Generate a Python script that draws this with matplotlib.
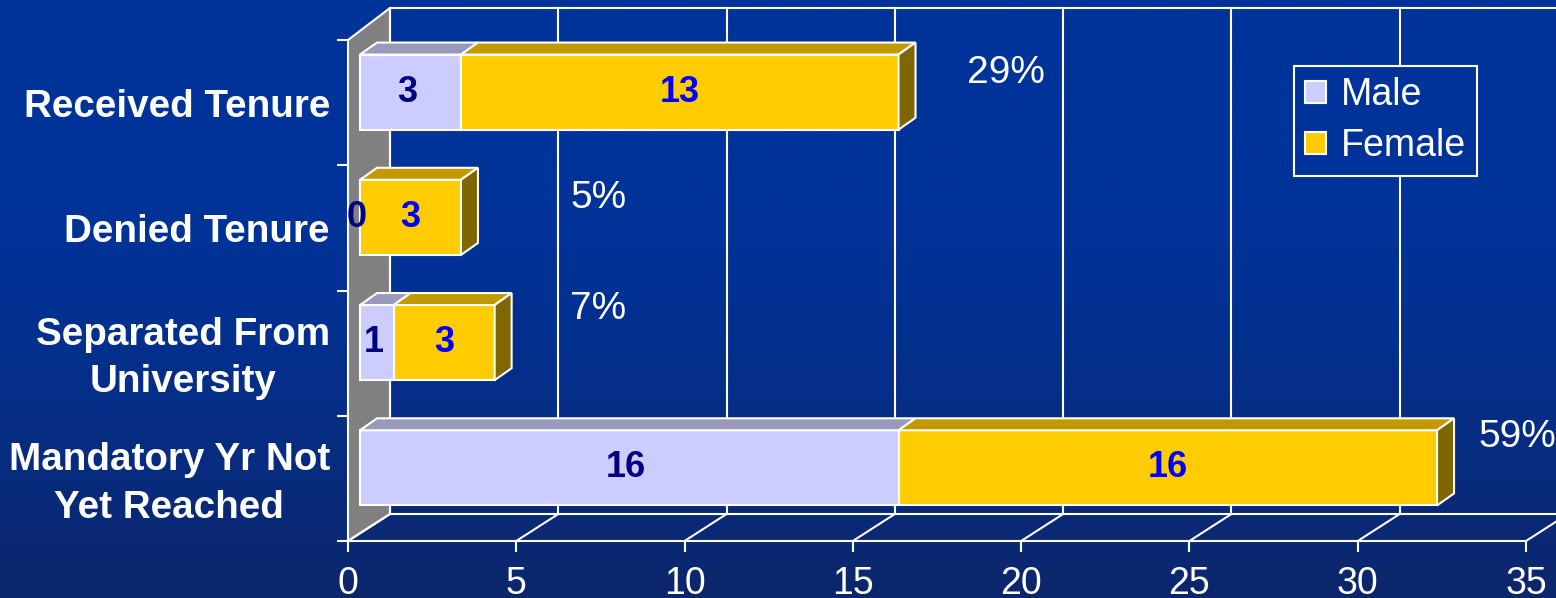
import numpy as np
import matplotlib.pyplot as plt
import matplotlib.transforms as mtransforms
from matplotlib.patches import Polygon
from matplotlib.lines import Line2D

categories = ['Received Tenure', 'Denied Tenure', 'Separated From\nUniversity',
              'Mandatory Yr Not\nYet Reached']
male = [3, 0, 1, 16]
female = [13, 3, 3, 16]
pct_labels = ['29%', '5%', '7%', '59%']
x_ticks = [0, 5, 10, 15, 20, 25, 30, 35]

# placement of the percentage notes (x in data units, shift from category centre)
pct_x = [18.4, 6.6, 6.6, 33.6]
pct_dy = [-0.24, -0.24, -0.35, -0.33]

W, H = 1556, 598
SANS = ['Liberation Sans', 'DejaVu Sans']

# colours: front, top, side
male_col = ('#CCCCFF', '#9999BB', '#666699')
female_col = ('#FFCC00', '#C29A00', '#806600')

fig = plt.figure(figsize=(W / 100, H / 100), dpi=100)

# background gradient
bg = fig.add_axes([0, 0, 1, 1], zorder=0)
t = np.linspace(0, 1, 300)
top_c = np.array([0.0, 0.2, 0.6])
bot_c = np.array([0.05, 0.15, 0.42])
mix = np.clip((t - 0.35) / 0.65, 0, 1) ** 1.3
img = top_c[None, :] * (1 - mix[:, None]) + bot_c[None, :] * mix[:, None]
bg.imshow(img[:, None, :], aspect='auto', extent=[0, 1, 0, 1])
bg.axis('off')

ax = fig.add_axes([348 / W, 1 - 541 / H, (1526 - 348) / W, (541 - 40) / H], zorder=1)
ax.set_xlim(0, 35)
ax.set_ylim(3.5, -0.5)
ax.patch.set_visible(False)
for s in ax.spines.values():
    s.set_visible(False)

ident = mtransforms.IdentityTransform()
depth = np.array([42, 27])
wall_depth = np.array([42, 32])


def px(x, y):
    return ax.transData.transform((x, y))


# side wall
fb, ft = px(0, 3.5), px(0, -0.5)
ax.add_patch(Polygon([fb, ft, ft + wall_depth, fb + depth], closed=True, transform=ident,
                     facecolor='#808080', edgecolor='white', lw=1.5, clip_on=False, zorder=1))

# back plane grid and floor
top_y = (ft + wall_depth)[1]
for xt in x_ticks:
    f = px(xt, 3.5)
    b = f + depth
    ax.add_line(Line2D([b[0], b[0]], [b[1], top_y], transform=ident, color='white',
                       lw=1.5, clip_on=False, zorder=1))
    ax.add_line(Line2D([f[0], b[0]], [f[1], b[1]], transform=ident, color='white',
                       lw=1.5, clip_on=False, zorder=1))
ax.add_line(Line2D([(ft + depth)[0], W + 50], [top_y, top_y], transform=ident,
                   color='white', lw=1.5, clip_on=False, zorder=1))
f0, f1 = px(0, 3.5), px(35, 3.5)
ax.add_line(Line2D([f0[0], f1[0]], [f0[1], f1[1]], transform=ident, color='white',
                   lw=1.5, clip_on=False, zorder=1))
ax.add_line(Line2D([f0[0] + depth[0], f1[0] + depth[0] + 50], [f0[1] + depth[1]] * 2,
                   transform=ident, color='white', lw=1.5, clip_on=False, zorder=1))

# bars sit a little behind the front plane
off = mtransforms.offset_copy(ax.transData, fig=fig, x=12, y=10.5, units='dots')
y = np.arange(len(categories))
bh = 0.6
m_bars = ax.barh(y, male, height=bh, color=male_col[0], edgecolor='white', lw=1.5,
                 transform=off, label='Male', zorder=3)
f_bars = ax.barh(y, female, left=male, height=bh, color=female_col[0], edgecolor='white',
                 lw=1.5, transform=off, label='Female', zorder=3)

bd = np.array([17, 12])
for i in range(len(categories)):
    segs = [(0, male[i], male_col), (male[i], female[i], female_col)]
    segs = [s for s in segs if s[1] > 0]
    for k, (left, w, cols) in enumerate(segs):
        a = off.transform((left, i - bh / 2))
        b = off.transform((left + w, i - bh / 2))
        c = off.transform((left + w, i + bh / 2))
        ax.add_patch(Polygon([a, b, b + bd, a + bd], closed=True, transform=ident,
                             facecolor=cols[1], edgecolor='white', lw=1.5,
                             clip_on=False, zorder=3))
        if k == len(segs) - 1:
            ax.add_patch(Polygon([b, c, c + bd, b + bd], closed=True, transform=ident,
                                 facecolor=cols[2], edgecolor='white', lw=1.5,
                                 clip_on=False, zorder=3))

# value labels
for i in range(len(categories)):
    ax.text(male[i] / 2 - 0.1, i, str(male[i]), transform=off, ha='center', va='center',
            fontsize=26, fontweight='bold', color='#000080', family=SANS, zorder=5)
    ax.text(male[i] + female[i] / 2, i, str(female[i]), transform=off, ha='center',
            va='center', fontsize=26, fontweight='bold', color='#0000FF', family=SANS,
            zorder=5)
    ax.text(pct_x[i], i + pct_dy[i], pct_labels[i], ha='left', va='center', fontsize=28,
            color='white', family=SANS, zorder=5, clip_on=False)

# axes ticks
ax.set_yticks(y)
ax.set_yticklabels(categories, fontsize=27.8, fontweight='bold', color='white',
                   family=SANS, multialignment='center', linespacing=1.4)
ax.tick_params(axis='y', which='major', length=0, pad=13)
for lbl in ax.get_yticklabels():
    if '\n' in lbl.get_text():
        lbl.set_transform(lbl.get_transform() + mtransforms.Affine2D().translate(0, 4))
ax.set_yticks([-0.5, 0.5, 1.5, 2.5, 3.5], minor=True)
ax.tick_params(axis='y', which='minor', length=8, width=1.5, color='white')

ax.set_xticks(x_ticks)
ax.set_xticklabels([str(v) for v in x_ticks], fontsize=27, color='white', family=SANS)
ax.tick_params(axis='x', length=8, width=1.5, color='white', pad=10)

leg = fig.legend(handles=[m_bars, f_bars], labels=['Male', 'Female'], loc='upper left',
                 bbox_to_anchor=(1294 / W, 1 - 66 / H), borderaxespad=0,
                 prop={'family': SANS, 'size': 27}, labelcolor='white', fancybox=False,
                 handlelength=0.55, handleheight=0.55, handletextpad=0.4,
                 borderpad=0.3, labelspacing=0.4)
leg.get_frame().set_facecolor('#003399')
leg.get_frame().set_edgecolor('white')
leg.get_frame().set_linewidth(1.5)
leg.get_frame().set_alpha(1)
leg.set_zorder(6)

fig.savefig('out.png', dpi=100)
